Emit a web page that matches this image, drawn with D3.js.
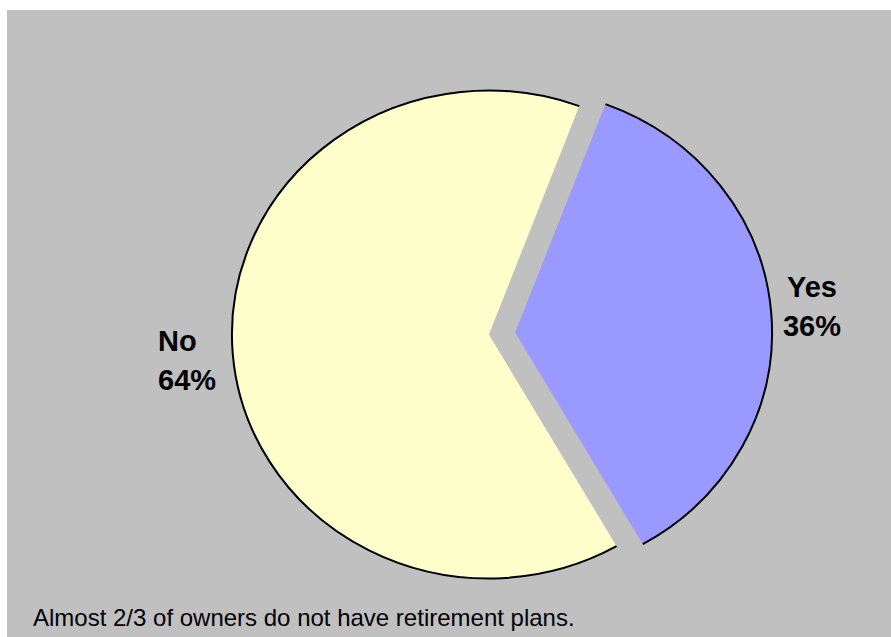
<!DOCTYPE html>
<html>
<head>
<meta charset="utf-8">
<script src="https://cdn.jsdelivr.net/npm/d3@7/dist/d3.min.js"></script>
<style>
  html, body { margin: 0; padding: 0; background: #ffffff; }
  svg { display: block; }
  text { font-family: "Liberation Sans", Arial, sans-serif; }
</style>
</head>
<body>
<svg id="chart" width="891" height="637"></svg>
<script>
// Survey answers: does the owner have a retirement plan?
const categories = ["Yes", "No"];
const shares = [36, 64];
const percentLabels = ["36%", "64%"];
const sliceColors = ["#9999FF", "#FFFFCC"];
const caption = "Almost 2/3 of owners do not have retirement plans.";

const svg = d3.select("#chart");
const W = 891, H = 637;

// panel background
svg.append("rect")
  .attr("x", 7).attr("y", 10)
  .attr("width", W - 7).attr("height", H - 10)
  .attr("fill", "#C0C0C0");

const cx = 502, cy = 333.5;
const radius = 244;
const stretchX = 1.053;   // the pie is drawn slightly wider than tall
const explode = 12.5;
const firstAngle = 20.6 * Math.PI / 180;

const pie = d3.pie()
  .sort(null)
  .value(d => d)
  .startAngle(firstAngle)
  .endAngle(firstAngle + 2 * Math.PI);

const arcs = pie(shares);

const fillArc = d3.arc().innerRadius(0).outerRadius(radius);

const g = svg.append("g")
  .attr("transform", `translate(${cx},${cy}) scale(${stretchX},1)`);

const slices = g.selectAll("g.slice")
  .data(arcs)
  .join("g")
  .attr("class", "slice")
  .attr("transform", d => {
    const mid = (d.startAngle + d.endAngle) / 2;
    return `translate(${Math.sin(mid) * explode},${-Math.cos(mid) * explode})`;
  });

slices.append("path")
  .attr("d", fillArc)
  .attr("fill", (d, i) => sliceColors[i]);

// outline only along the outer rim of each slice
slices.append("path")
  .attr("d", d => {
    const a0 = d.startAngle, a1 = d.endAngle;
    const p0 = [Math.sin(a0) * radius, -Math.cos(a0) * radius];
    const p1 = [Math.sin(a1) * radius, -Math.cos(a1) * radius];
    const large = (a1 - a0) > Math.PI ? 1 : 0;
    return `M${p0[0]},${p0[1]}A${radius},${radius} 0 ${large} 1 ${p1[0]},${p1[1]}`;
  })
  .attr("fill", "none")
  .attr("stroke", "#000")
  .attr("stroke-width", 2)
  .attr("vector-effect", "non-scaling-stroke");

// category labels beside each slice
const labelPos = [
  { x: 812, y: 297, anchor: "middle" },
  { x: 158, y: 351, anchor: "start" }
];

arcs.forEach((d, i) => {
  const p = labelPos[i];
  const t = svg.append("text")
    .attr("x", p.x).attr("y", p.y)
    .attr("text-anchor", p.anchor)
    .attr("font-size", 29)
    .attr("font-weight", "bold")
    .attr("fill", "#000");
  t.append("tspan").attr("x", p.x).text(categories[i]);
  t.append("tspan").attr("x", p.x).attr("dy", 38.5).text(percentLabels[i]);
});

svg.append("text")
  .attr("x", 33).attr("y", 626)
  .attr("font-size", 24)
  .attr("fill", "#000")
  .text(caption);
</script>
</body>
</html>
